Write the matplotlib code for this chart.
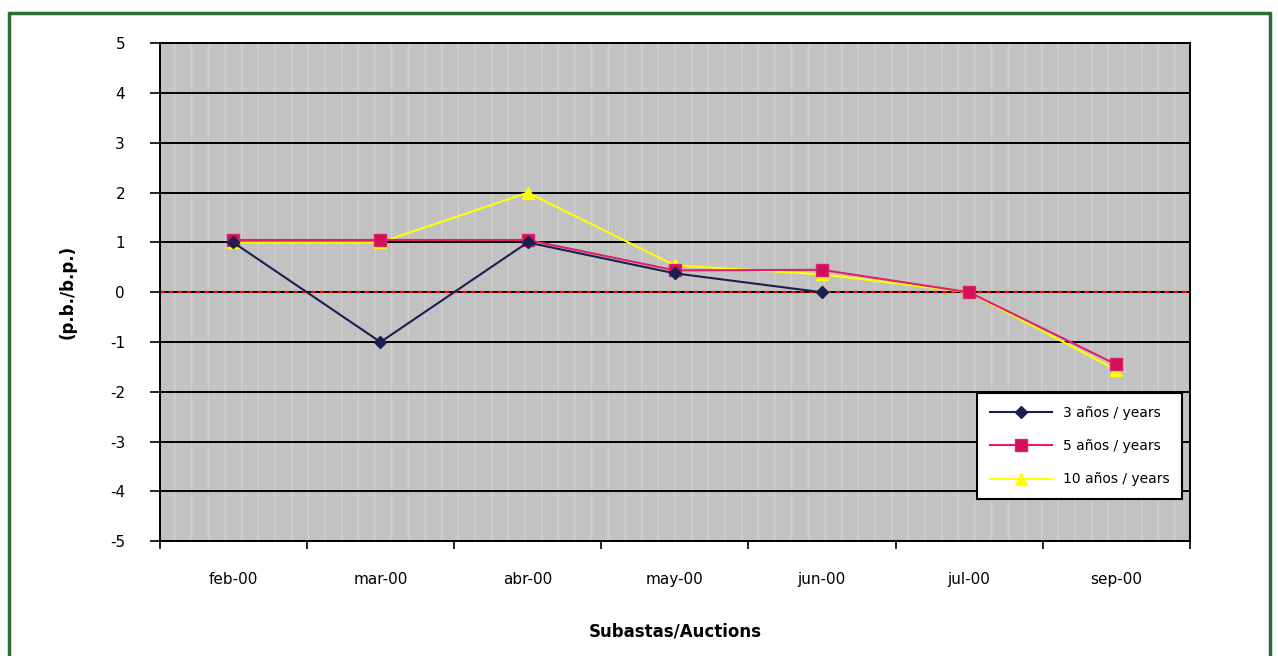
import matplotlib.pyplot as plt
from matplotlib.patches import Rectangle
import numpy as np

plt.rcParams["axes.unicode_minus"] = False

# Datos
subastas = ["feb-00", "mar-00", "abr-00", "may-00", "jun-00", "jul-00", "sep-00"]
serie_3 = [1.0, -1.0, 1.0, 0.38, 0.0, None, None]
serie_5 = [1.05, 1.05, 1.05, 0.44, 0.45, 0.0, -1.45]
serie_10 = [1.0, 1.0, 2.0, 0.54, 0.36, 0.0, -1.56]
nombres = ["3 años / years", "5 años / years", "10 años / years"]
ticks_y = [5, 4, 3, 2, 1, 0, -1, -2, -3, -4, -5]

fig = plt.figure(figsize=(12.78, 6.56), dpi=100)
ax = fig.add_axes([0.125, 0.175, 0.806, 0.759])

# Fondo gris y rejilla
ax.set_facecolor("#c2c2c2")
ax.bar(np.arange(len(subastas)), 10, bottom=-5, width=1.0, color="none",
       edgecolor="#d0d0d0", hatch="|", linewidth=0, zorder=0)
for t in ticks_y:
    ax.axhline(t, color="black", lw=1.4, zorder=1)
ax.axhline(0, color="red", lw=1.6, ls=(0, (2, 2)), zorder=2)

x = np.arange(len(subastas))
y3 = np.array([np.nan if v is None else v for v in serie_3], dtype=float)
ax.plot(x, y3, color="#1a1f4f", marker="D", ms=6, lw=1.5, label=nombres[0], zorder=5)
ax.plot(x, serie_5, color="#e0206a", marker="s", ms=8, mfc="#d0105a", lw=1.5,
        label=nombres[1], zorder=4)
ax.plot(x, serie_10, color="#ffff00", marker="^", ms=8, lw=1.5, label=nombres[2], zorder=3)

ax.set_xlim(-0.5, len(subastas) - 0.5)
ax.set_ylim(-5, 5)
ax.set_yticks(ticks_y)
ax.set_xticks(x)
ax.set_xticklabels(subastas)
ax.set_xticks(np.arange(len(subastas) + 1) - 0.5, minor=True)
ax.tick_params(axis="x", which="major", length=0, pad=22, labelsize=11)
ax.tick_params(axis="x", which="minor", length=6, width=1.2, direction="out")
ax.tick_params(axis="y", length=7, width=1.2, direction="out", pad=18, labelsize=11)
for s in ax.spines.values():
    s.set_color("black")
    s.set_linewidth(1.4)

ax.set_xlabel("Subastas/Auctions", fontsize=12, fontweight="bold", labelpad=26)
ax.set_ylabel("(p.b./b.p.)", fontsize=12, fontweight="bold", labelpad=24)

leg = ax.legend(loc="upper left", bbox_to_anchor=(977 / 1278, 1 - 393 / 656),
                bbox_transform=fig.transFigure, fancybox=False, framealpha=1,
                edgecolor="black", fontsize=10, handlelength=4.5, borderpad=0.9,
                labelspacing=1.4, borderaxespad=0)
leg.get_frame().set_linewidth(1.5)

# Borde verde de la figura
fig.patches.append(Rectangle((9 / 1278, -0.1), 1261 / 1278, 1.1 - 13 / 656,
                             transform=fig.transFigure, fill=False,
                             edgecolor="#2e6b35", lw=2.5))

fig.savefig("out.png", dpi=100)
